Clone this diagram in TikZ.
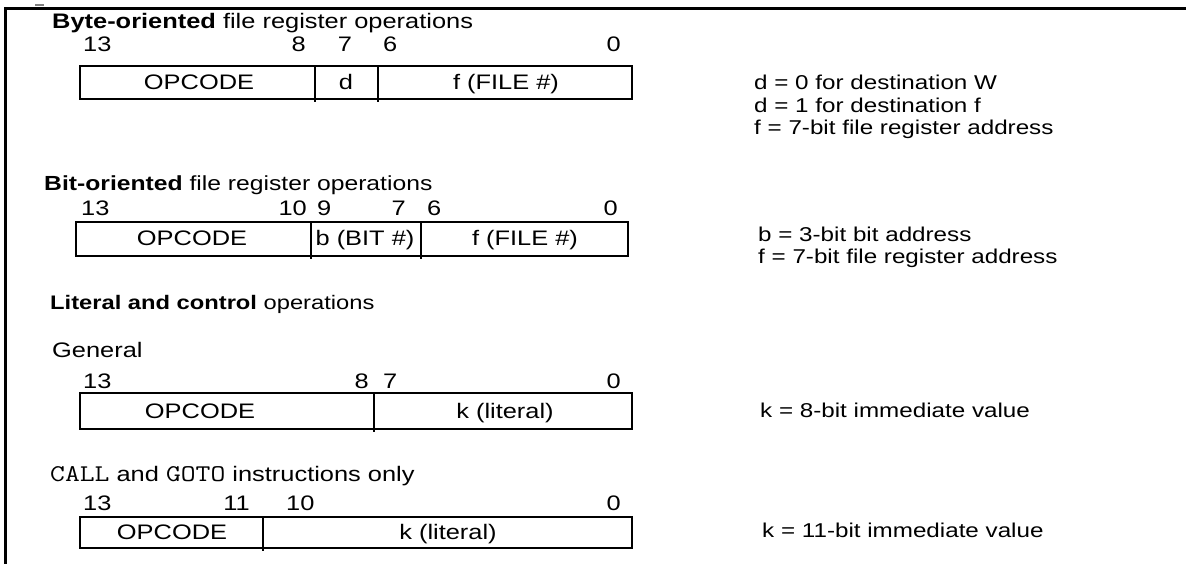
\documentclass[tikz,border=0pt]{standalone}
\usepackage{fontspec}
\setmainfont{Liberation Sans}[FakeStretch=1.21]
\newfontfamily\courfont{Latin Modern Mono}[FakeStretch=1.2]
\newcommand{\mycode}[1]{{\courfont\fontsize{24}{24}\selectfont #1}}
\begin{document}
\begin{tikzpicture}[x=1pt,y=-1pt,
  lt/.style={inner sep=0pt,font=\fontsize{21}{24}\selectfont},
  rt/.style={inner sep=0pt,font=\fontsize{20}{24}\selectfont,anchor=base west},
  hd/.style={lt,anchor=base west},
  numl/.style={lt,anchor=base west},
  numr/.style={lt,anchor=base east},
  numc/.style={lt,anchor=base},
  cell/.style={lt,anchor=base},
  boxline/.style={line width=1.3pt},
  frame/.style={line width=3pt}]
\useasboundingbox (0,0) rectangle (1186,564);
% frame
\draw[frame] (5,564) -- (5,9) -- (1186,9);
\draw[line width=1.5pt,gray] (35,5) -- (44,5);

% ---------- Section 1
\node[hd] (h1) at (52,29) {\textbf{Byte-oriented} file register operations};
\node[numl] (a13) at (83,52) {13};
\node[numr] (a8) at (306,52) {8};
\node[numc] (a7) at (345,52) {7};
\node[numl] (a6) at (383,52) {6};
\node[numr] (a0) at (621,52) {0};
\draw[boxline] (80,66) rectangle (632,99);
\draw[boxline] (315,66) -- (315,102);
\draw[boxline] (378,66) -- (378,102);
\node[cell] (c1a) at (199,89.5) {OPCODE};
\node[cell] (c1b) at (346,89.5) {d};
\node[cell] (c1c) at (506,89.5) {f (FILE \#)};
\node[rt] (r1a) at (754,90) {d = 0 for destination W};
\node[rt] (r1b) at (754,112.5) {d = 1 for destination f};
\node[rt] (r1c) at (754,135) {f = 7-bit file register address};

% ---------- Section 2
\node[hd,font=\fontsize{20.4}{24}\selectfont] (h2) at (44,191) {\textbf{Bit-oriented} file register operations};
\node[numl] (b13) at (81,215) {13};
\node[numr] (b10) at (307,215) {10};
\node[numl] (b9) at (317,215) {9};
\node[numr] (b7) at (406,215) {7};
\node[numl] (b6) at (427,215) {6};
\node[numr] (b0) at (618,215) {0};
\draw[boxline] (76,222) rectangle (628,256);
\draw[boxline] (311,222) -- (311,259);
\draw[boxline] (421,222) -- (421,259);
\node[cell] (c2a) at (192,246) {OPCODE};
\node[cell] (c2b) at (365,246) {b (BIT \#)};
\node[cell] (c2c) at (525,246) {f (FILE \#)};
\node[rt] (r2a) at (758,241) {b = 3-bit bit address};
\node[rt] (r2b) at (758,263) {f = 7-bit file register address};

% ---------- Section 3
\node[hd,font=\fontsize{19.6}{24}\selectfont] (h3) at (50,309) {\textbf{Literal and control} operations};
\node[hd] (g3) at (52,357) {General};
\node[numl] (d13) at (83,388) {13};
\node[numr] (d8) at (369,388) {8};
\node[numl] (d7) at (383,388) {7};
\node[numr] (d0) at (621,388) {0};
\draw[boxline] (80,393) rectangle (632,429);
\draw[boxline] (374,393) -- (374,432);
\node[cell] (c3a) at (200,418) {OPCODE};
\node[cell] (c3b) at (505,418) {k (literal)};
\node[rt] (r3a) at (760,417) {k = 8-bit immediate value};

% ---------- Section 4
\node[hd] (h4) at (50,481) {\mycode{CALL} and \mycode{GOTO} instructions only};
\node[numl] (e13) at (83,510) {13};
\node[numr] (e11) at (250,510) {11};
\node[numl] (e10) at (286,510) {10};
\node[numr] (e0) at (621,510) {0};
\draw[boxline] (80,517) rectangle (632,548);
\draw[boxline] (263,517) -- (263,551);
\node[cell] (c4a) at (172,539.5) {OPCODE};
\node[cell] (c4b) at (448,539.5) {k (literal)};
\node[rt] (r4a) at (762,537) {k = 11-bit immediate value};
\end{tikzpicture}
\end{document}
